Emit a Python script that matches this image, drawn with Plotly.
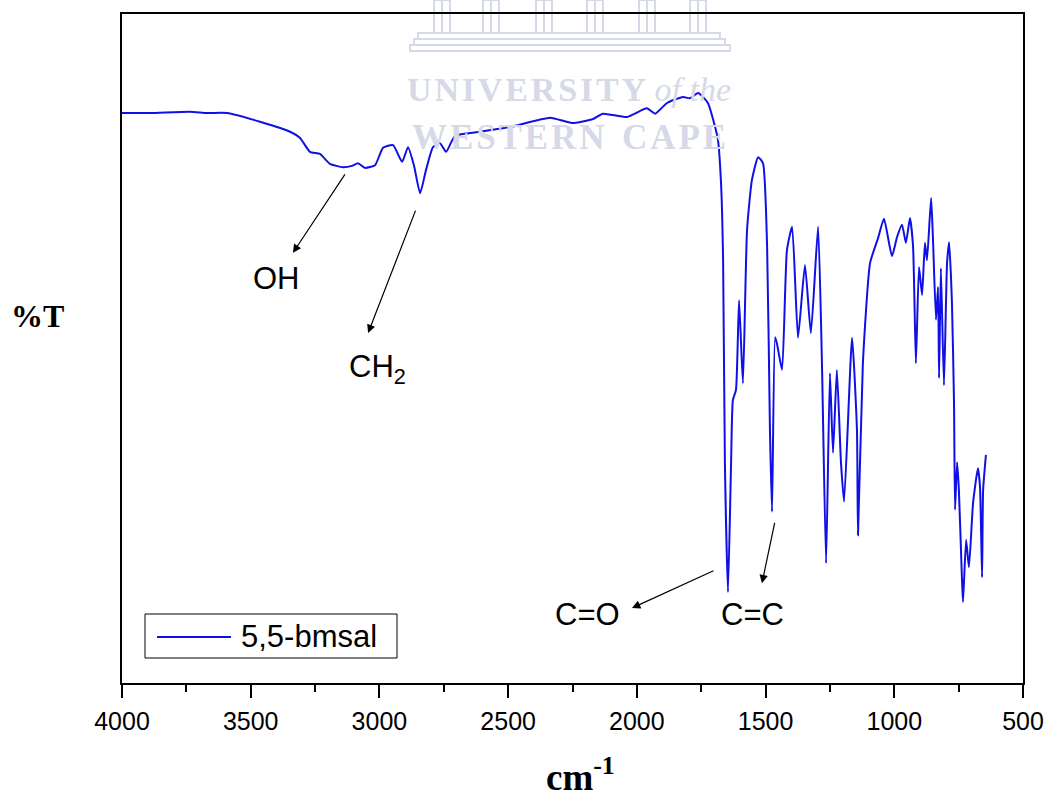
import plotly.graph_objects as go

# Wavenumber (cm^-1) and %T
wavenumber = [4000, 3891, 3736, 3670, 3592, 3464, 3347, 3309, 3270, 3231, 3192, 3142, 3107, 3083,
              3056, 3017, 2986, 2947, 2912, 2889, 2866, 2842, 2819, 2792, 2765, 2741, 2706, 2609,
              2493, 2337, 2252, 2170, 2132, 2038, 1961, 1929, 1883, 1821, 1794, 1762, 1724, 1696,
              1685, 1673, 1665, 1658, 1646, 1634, 1627, 1615, 1603, 1588, 1572, 1553, 1529, 1510,
              1494, 1483, 1475, 1463, 1456, 1436, 1417, 1397, 1374, 1347, 1324, 1296, 1281, 1265,
              1250, 1238, 1223, 1207, 1195, 1164, 1145, 1141, 1122, 1094, 1063, 1040, 1009, 989,
              970, 955, 939, 927, 916, 904, 892, 881, 873, 857, 850, 838, 830, 826, 819, 807, 795,
              787, 776, 768, 764, 756, 749, 737, 733, 721, 710, 694, 675, 667, 659, 655, 644]
transmittance = [85.2, 85.2, 85.4, 85.2, 85.2, 83.9, 82.4, 81.5, 79.4, 79.1, 77.6, 77.1, 77.3, 77.7,
                 77.0, 77.4, 80.0, 80.4, 77.9, 80.1, 77.4, 73.2, 76.7, 80.1, 80.7, 79.4, 81.8, 82.4,
                 83.1, 84.5, 83.7, 84.3, 85.1, 84.6, 85.9, 85.1, 86.7, 87.6, 87.4, 88.2, 86.7, 83.1,
                 81.2, 74.7, 63.2, 32.9, 13.6, 32.9, 42.3, 43.8, 57.2, 44.8, 67.7, 75.2, 78.6, 77.7,
                 65.2, 37.8, 25.6, 51.7, 50.8, 46.8, 64.7, 68.2, 51.6, 62.5, 52.3, 68.2, 47.8, 17.9,
                 46.3, 34.4, 46.8, 32.9, 27.1, 51.6, 37.8, 22.1, 47.8, 62.8, 66.5, 69.4, 63.8, 66.7,
                 68.5, 65.8, 69.5, 65.2, 47.8, 62.2, 58.0, 65.8, 63.2, 72.5, 66.7, 54.3, 59.2, 45.6,
                 62.0, 44.5, 62.8, 65.9, 56.8, 41.9, 25.9, 33.0, 28.8, 15.4, 12.1, 21.4, 17.3, 26.9,
                 32.1, 29.3, 15.8, 28.8, 34.1]

series_name = "5,5-bmsal"
x_ticks = [4000, 3500, 3000, 2500, 2000, 1500, 1000, 500]

# Peak labels
peak_labels = ["OH", "CH<sub>2</sub>", "C=O", "C=C"]
label_wn = [3398, 3006, 2190, 1549]
label_t = [60.5, 47.0, 10.2, 10.3]
tip_wn = [3336, 3044, 2019, 1514]
tip_t = [64.3, 52.3, 11.2, 14.9]
tail_dx = [53, 48, 83, 13]
tail_dy = [-80, -124, -38, -62]

W, H = 1048, 802
L, R, T, B = 122, 25, 14, 119
PW, PH = W - L - R, H - T - B


def px(x):
    return (x - L) / PW


def py(y):
    return (H - B - y) / PH


BLUE = "#1010e6"
WM = "#d6d9e7"
SANS = "Arial, Liberation Sans"
SERIF = "Times New Roman, Liberation Serif"
HS = "\u200a"

fig = go.Figure()
fig.add_trace(go.Scatter(x=wavenumber, y=transmittance, mode="lines",
                         line=dict(color=BLUE, width=2, shape="spline", smoothing=0.5),
                         name=series_name, showlegend=False))

annotations = []
shapes = []

# Watermark (drawn first so other text stays on top)
annotations.append(dict(x=px(569), y=py(89), xref="paper", yref="paper",
                        text="<b>" + HS.join("UNIVERSITY") + "</b> <i>of the</i>", showarrow=False,
                        xanchor="center", yanchor="middle",
                        font=dict(family=SERIF, size=34, color=WM)))
annotations.append(dict(x=px(569), y=py(137), xref="paper", yref="paper",
                        text="<b>" + HS.join("WESTERN") + "  " + HS.join("CAPE") + "</b>",
                        showarrow=False, xanchor="center", yanchor="middle",
                        font=dict(family=SERIF, size=35, color=WM)))
for (x0, x1, y0, y1) in [(418, 720, 33, 39), (414, 725, 39, 45), (410, 730, 45, 51)]:
    shapes.append(dict(type="rect", xref="paper", yref="paper", x0=px(x0), x1=px(x1),
                       y0=py(y1), y1=py(y0), line=dict(color=WM, width=2), layer="below"))
for cx in [442, 491, 544, 595, 647, 698]:
    shapes.append(dict(type="rect", xref="paper", yref="paper", x0=px(cx - 8), x1=px(cx + 8),
                       y0=py(33), y1=py(0), line=dict(color=WM, width=2), layer="below"))
    shapes.append(dict(type="line", xref="paper", yref="paper", x0=px(cx), x1=px(cx),
                       y0=py(33), y1=py(0), line=dict(color=WM, width=2), layer="below"))

# Peak annotations
for i in range(len(peak_labels)):
    annotations.append(dict(x=tip_wn[i], y=tip_t[i], xref="x", yref="y", text="",
                            showarrow=True, ax=tail_dx[i], ay=tail_dy[i],
                            arrowhead=2, arrowsize=1.4, arrowwidth=1.2, arrowcolor="black"))
    annotations.append(dict(x=label_wn[i], y=label_t[i], xref="x", yref="y",
                            text=peak_labels[i], showarrow=False,
                            xanchor="center", yanchor="middle",
                            font=dict(family=SANS, size=31, color="black")))

# Axis titles
annotations.append(dict(x=px(37), y=py(316), xref="paper", yref="paper", text="<b>%T</b>",
                        showarrow=False, xanchor="center", yanchor="middle",
                        font=dict(family=SERIF, size=32, color="black")))
annotations.append(dict(x=px(580), y=py(774), xref="paper", yref="paper",
                        text="<b>cm<sup>-1</sup></b>", showarrow=False,
                        xanchor="center", yanchor="middle",
                        font=dict(family=SERIF, size=37, color="black")))

# Manual legend
shapes.append(dict(type="rect", xref="paper", yref="paper", x0=px(145), x1=px(397),
                   y0=py(658), y1=py(614), line=dict(color="black", width=1), fillcolor="white"))
shapes.append(dict(type="line", xref="paper", yref="paper", x0=px(157), x1=px(231),
                   y0=py(637), y1=py(637), line=dict(color=BLUE, width=2)))
annotations.append(dict(x=px(239), y=py(636), xref="paper", yref="paper", text=series_name,
                        xanchor="left", yanchor="middle", showarrow=False,
                        font=dict(family=SANS, size=31, color="black")))

fig.update_layout(
    width=W, height=H, autosize=False,
    margin=dict(l=L, r=R, t=T, b=B, autoexpand=False),
    paper_bgcolor="white", plot_bgcolor="rgba(0,0,0,0)",
    annotations=annotations, shapes=shapes,
    showlegend=False,
)
fig.update_xaxes(range=[4000, 500], tickvals=x_ticks, ticktext=[str(v) for v in x_ticks],
                 ticks="outside", ticklen=13, tickwidth=1.5, tickcolor="black",
                 minor=dict(dtick=250, ticks="outside", ticklen=7, tickwidth=1.5, tickcolor="black"),
                 showline=True, linewidth=2, linecolor="black", mirror=True, showgrid=False,
                 zeroline=False, ticklabelstandoff=2, automargin=False,
                 tickfont=dict(family=SANS, size=25, color="black"))
fig.update_yaxes(range=[0, 100], showticklabels=False, ticks="", showline=True, linewidth=2,
                 linecolor="black", mirror=True, showgrid=False, zeroline=False, automargin=False)

fig.write_html("out.html",
               config={"displayModeBar": False, "responsive": False},
               post_script="document.body.style.margin='0';"
                           "document.documentElement.style.overflow='hidden';")
